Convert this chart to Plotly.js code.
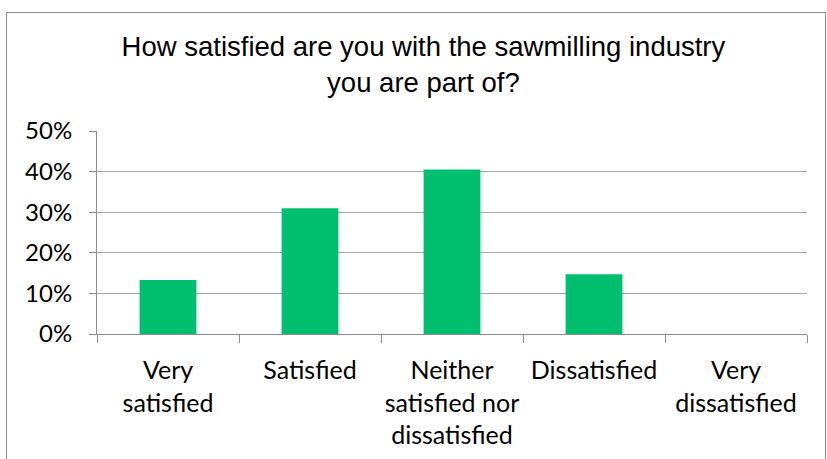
<!DOCTYPE html>
<html>
<head>
<meta charset="utf-8">
<script src="https://cdn.plot.ly/plotly-3.0.1.min.js"></script>
<style>
  html, body { margin: 0; padding: 0; background: #fff; }
  #wrap { position: relative; width: 827px; height: 459px; overflow: hidden; }
  #chart { position: absolute; left: 0; top: 0; width: 827px; height: 459px; }
  #frame { position: absolute; left: 6px; top: 12px; width: 818px; height: 460px;
           border: 1px solid #8c8c8c; pointer-events: none; }
</style>
</head>
<body>
<div id="wrap">
  <div id="chart"></div>
  <div id="frame"></div>
</div>
<script>
const categories = ["Very<br>satisfied", "Satisfied", "Neither<br>satisfied nor<br>dissatisfied", "Dissatisfied", "Very<br>dissatisfied"];
const shares = [0.133, 0.31, 0.405, 0.147, 0];
const yTicks = [0, 0.1, 0.2, 0.3, 0.4, 0.5];

const trace = {
  type: "bar",
  x: categories,
  y: shares,
  marker: { color: "#00bf6f" },
  hoverinfo: "skip"
};

const layout = {
  width: 827, height: 459,
  margin: { l: 97, r: 20, t: 131, b: 125 },
  paper_bgcolor: "#fff", plot_bgcolor: "#fff",
  showlegend: false,
  bargap: 0.6,
  title: {
    text: "How satisfied are you with the sawmilling industry<br>you are part of?",
    font: { family: "Liberation Sans, Arial, sans-serif", size: 27.5, color: "#000" },
    x: 0.512, xanchor: "center", y: 0.878, yanchor: "top"
  },
  xaxis: {
    type: "category",
    tickson: "boundaries",
    tickangle: 0,
    ticks: "outside", ticklen: 8, tickcolor: "#8c8c8c", tickwidth: 1,
    showline: true, linecolor: "#8c8c8c", linewidth: 1,
    showgrid: false,
    ticklabelstandoff: 14,
    tickfont: { family: "Lato, sans-serif", size: 25, color: "#000" },
    automargin: false
  },
  yaxis: {
    range: [0, 0.5],
    tickvals: yTicks,
    tickformat: ".0%",
    ticks: "outside", ticklen: 7, tickcolor: "#8c8c8c", tickwidth: 1,
    showline: true, linecolor: "#8c8c8c", linewidth: 1,
    showgrid: true, gridcolor: "#a6a6a6", gridwidth: 1,
    zeroline: false,
    ticklabelstandoff: 12,
    tickfont: { family: "Lato, sans-serif", size: 24, color: "#000" },
    automargin: false
  }
};

Plotly.newPlot("chart", [trace], layout, { staticPlot: true, displayModeBar: false });
</script>
</body>
</html>
